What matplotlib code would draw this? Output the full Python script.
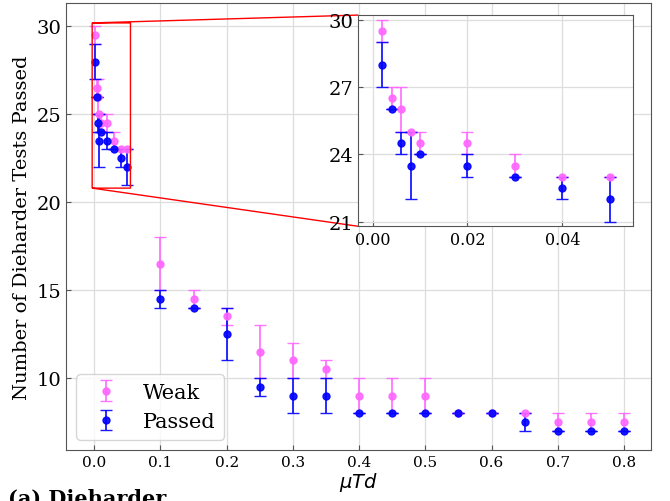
import matplotlib
matplotlib.use("Agg")
import matplotlib.pyplot as plt
import numpy as np

plt.rcParams['font.family'] = ['DejaVu Serif']
plt.rcParams['mathtext.fontset'] = 'dejavusans'

mu = [0.002, 0.004, 0.006, 0.008, 0.01, 0.02, 0.03, 0.04, 0.05,
      0.1, 0.15, 0.2, 0.25, 0.3, 0.35, 0.4, 0.45, 0.5, 0.55, 0.6, 0.65, 0.7, 0.75, 0.8]
weak = [29.5, 26.5, 26, 25, 24.5, 24.5, 23.5, 23, 23,
        16.5, 14.5, 13.5, 11.5, 11, 10.5, 9, 9, 9, 8, 8, 8, 7.5, 7.5, 7.5]
weak_lo = [29, 26, 25, 25, 24, 24, 23, 23, 23,
           15, 14, 13, 10, 10, 10, 8, 8, 8, 8, 8, 8, 7, 7, 7]
weak_hi = [30, 27, 27, 25, 25, 25, 24, 23, 23,
           18, 15, 14, 13, 12, 11, 10, 10, 10, 8, 8, 8, 8, 8, 8]
passed = [28, 26, 24.5, 23.5, 24, 23.5, 23, 22.5, 22,
          14.5, 14, 12.5, 9.5, 9, 9, 8, 8, 8, 8, 8, 7.5, 7, 7, 7]
passed_lo = [27, 26, 24, 22, 24, 23, 23, 22, 21,
             14, 14, 11, 9, 8, 8, 8, 8, 8, 8, 8, 7, 7, 7, 7]
passed_hi = [29, 26, 25, 25, 24, 24, 23, 23, 23,
             15, 14, 14, 10, 10, 10, 8, 8, 8, 8, 8, 8, 7, 7, 7]

mu = np.array(mu)
weak = np.array(weak); passed = np.array(passed)
werr = [weak - np.array(weak_lo), np.array(weak_hi) - weak]
perr = [passed - np.array(passed_lo), np.array(passed_hi) - passed]

fig = plt.figure(figsize=(6.7, 5.02), dpi=100)
ax = fig.add_axes([0.0985, 0.1016, 0.873, 0.891])

def draw(a):
    a.errorbar(mu, weak, yerr=werr, fmt='o', color='#ff66ff', ecolor='#ff66ff',
               markersize=5, capsize=4, elinewidth=1.3, alpha=0.9, label='Weak')
    a.errorbar(mu, passed, yerr=perr, fmt='o', color='blue', ecolor='blue',
               markersize=5, capsize=4, elinewidth=1.3, alpha=0.9, label='Passed')
    a.grid(True, color='#dddddd', linewidth=0.9)
    a.set_axisbelow(True)
    for s in a.spines.values():
        s.set_color('#555555')
    a.tick_params(direction='in', color='#555555')

draw(ax)
ax.set_xlim(-0.0425, 0.8405)
ax.set_ylim(5.9, 31.35)
ax.set_xticks([0.0, 0.1, 0.2, 0.3, 0.4, 0.5, 0.6, 0.7, 0.8])
ax.set_yticks([10, 15, 20, 25, 30])
ax.tick_params(axis='x', labelsize=11)
ax.tick_params(axis='y', labelsize=14)
ax.set_xlabel(r'$\mu Td$', fontsize=14, labelpad=1)
ax.set_ylabel('Number of Dieharder Tests Passed', fontsize=14)
ax.legend(loc='lower left', fontsize=15)

axins = fig.add_axes([0.5348, 0.5472, 0.4095, 0.4208])
draw(axins)
axins.set_xlim(-0.003, 0.0548)
axins.set_ylim(20.8, 30.2)
axins.set_xticks([0.00, 0.02, 0.04])
axins.set_yticks([21, 24, 27, 30])
axins.tick_params(axis='x', labelsize=11.5)
axins.tick_params(axis='y', labelsize=14)
ind = ax.indicate_inset_zoom(axins, edgecolor='red', alpha=1.0, linewidth=1)
conns = ind.connectors
for i, c in enumerate(conns):
    c.set_visible(i in (0, 1))

fig.text(0.012, 0.027, '(a) Dieharder', fontsize=15, fontweight='bold', va='top')

fig.savefig('out.png', dpi=100)
